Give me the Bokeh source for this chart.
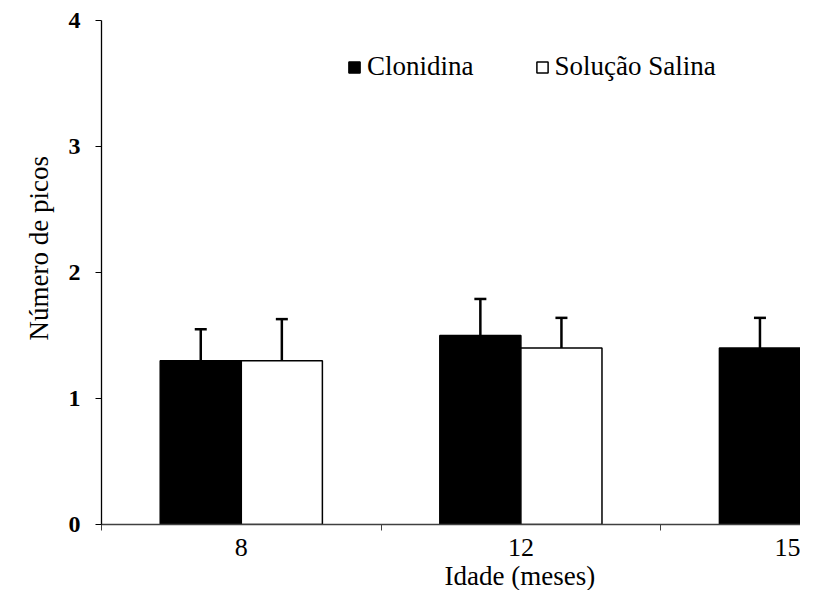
from bokeh.plotting import figure
from bokeh.models import (Range1d, FixedTicker, ColumnDataSource, Whisker, TeeHead,
                          Legend, LegendItem, Title)
from bokeh.embed import file_html
from bokeh.resources import INLINE

# ---- data ----
ages = ["8", "12", "15"]
clonidina = [1.3, 1.5, 1.4]
clonidina_err = [0.25, 0.29, 0.24]
salina = [1.3, 1.4, 1.0]
salina_err = [0.33, 0.24, 0.25]
y_ticks = [0, 1, 2, 3, 4]

FONT = "Liberation Serif, serif"
bar_w = 0.29
centers = [i + 0.5 for i in range(len(ages))]
x_clo = [c - bar_w / 2 for c in centers]
x_sal = [c + bar_w / 2 for c in centers]

p = figure(width=800, height=590, output_backend="svg", toolbar_location=None,
           x_range=Range1d(0, 2.5), y_range=Range1d(0, 4),
           min_border_left=101, min_border_right=0, min_border_top=20, min_border_bottom=66)
p.outline_line_color = None
p.xgrid.grid_line_color = None
p.ygrid.grid_line_color = None
p.background_fill_color = "white"
p.border_fill_color = "white"

src_c = ColumnDataSource(dict(x=x_clo, top=clonidina, upper=[v + e for v, e in zip(clonidina, clonidina_err)]))
src_s = ColumnDataSource(dict(x=x_sal, top=salina, upper=[v + e for v, e in zip(salina, salina_err)]))

r_c = p.vbar(x="x", top="top", width=bar_w, source=src_c, fill_color="black",
             line_color="black", line_width=1.5)
r_s = p.vbar(x="x", top="top", width=bar_w, source=src_s, fill_color="white",
             line_color="black", line_width=1.5)

for src in (src_c, src_s):
    w = Whisker(base="x", lower="top", upper="upper", source=src,
                line_color="black", line_width=2.5,
                upper_head=TeeHead(size=12, line_width=2.5, line_color="black"),
                lower_head=None)
    p.add_layout(w)

# x axis
xa = p.xaxis[0]
xa.ticker = FixedTicker(ticks=centers, minor_ticks=[0, 1, 2, 3])
xa.major_label_overrides = {c: a for c, a in zip(centers, ages)}
xa.major_tick_out = 0
xa.major_tick_in = 0
xa.minor_tick_out = 6
xa.minor_tick_in = 0
xa.minor_tick_line_color = "#404040"
xa.axis_line_color = "#404040"
xa.axis_line_width = 1.5
xa.major_label_text_font = FONT
xa.major_label_text_font_size = "26px"
xa.major_label_text_color = "black"
xa.major_label_standoff = 8

# y axis
ya = p.yaxis[0]
ya.ticker = FixedTicker(ticks=y_ticks)
ya.major_tick_out = 6
ya.major_tick_in = 0
ya.minor_tick_line_color = None
ya.axis_line_color = "black"
ya.axis_line_width = 1.3
ya.major_tick_line_color = "black"
ya.major_label_text_font = FONT
ya.major_label_text_font_size = "24px"
ya.major_label_text_font_style = "bold"
ya.major_label_text_color = "black"
ya.major_label_standoff = 15

# axis titles
p.add_layout(Title(text="Idade (meses)", text_font=FONT, text_font_size="27px",
                   text_font_style="normal", text_color="black", align="left",
                   offset=343, standoff=0), "below")
p.add_layout(Title(text="Número de picos", text_font=FONT, text_font_size="27px",
                   text_font_style="normal", text_color="black", align="left",
                   vertical_align="top", offset=184, standoff=20), "left")

legend = Legend(items=[LegendItem(label="Clonidina", renderers=[r_c]),
                       LegendItem(label="Solução Salina", renderers=[r_s])],
                orientation="horizontal", location=(246, 442),
                glyph_width=14, glyph_height=14, label_standoff=6, spacing=61,
                padding=0, margin=0, border_line_color=None, background_fill_alpha=0,
                label_text_font=FONT, label_text_font_size="27px", label_text_color="black")
p.add_layout(legend)

open("out.html", "w").write(file_html(p, INLINE))
